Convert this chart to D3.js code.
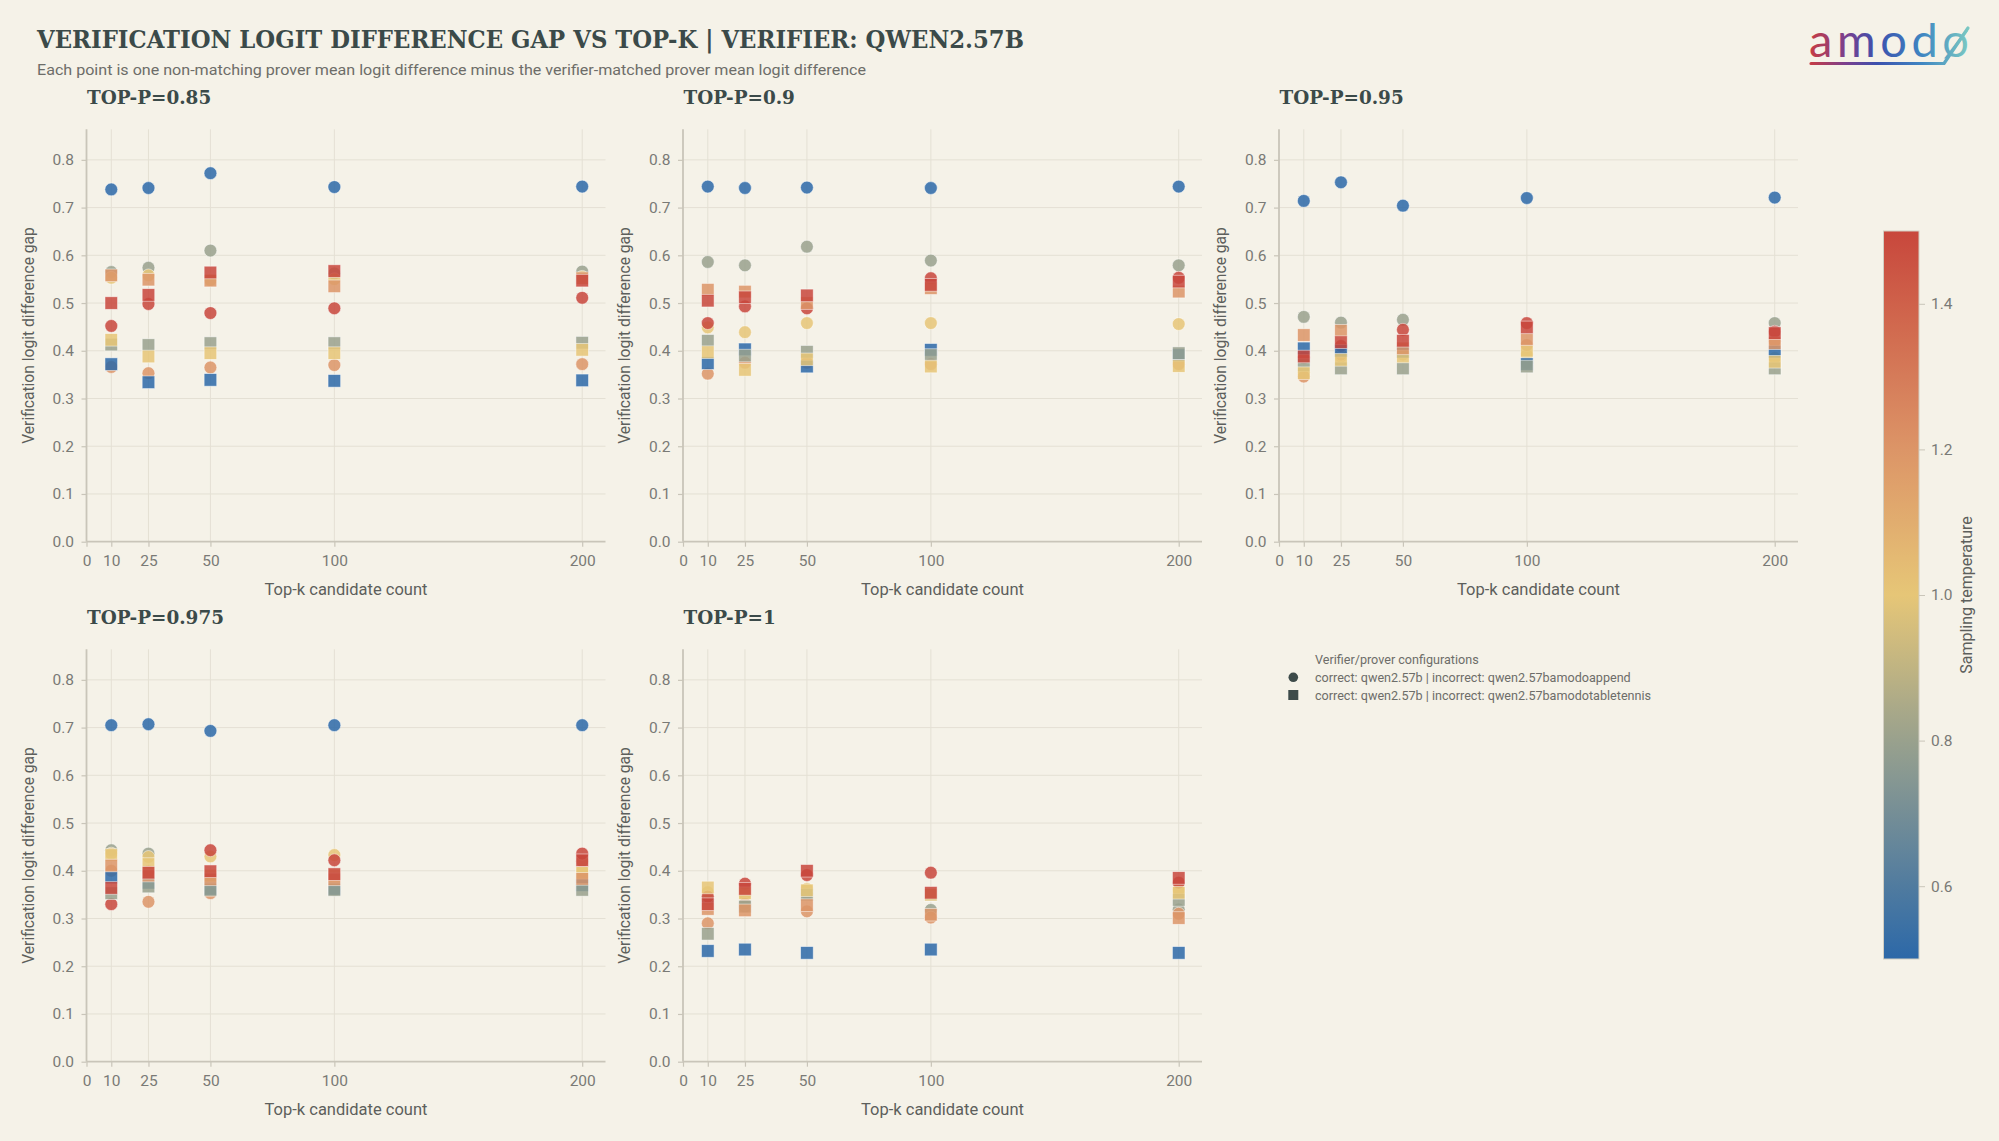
<!DOCTYPE html>
<html>
<head>
<meta charset="utf-8">
<script src="https://cdn.jsdelivr.net/npm/d3@7"></script>
<style>
  body { margin: 0; background: #f5f2e8; }
  svg { display: block; }
</style>
</head>
<body>
<svg id="chart"></svg>
<script>
var svgWidth = 1999;
var svgHeight = 1141;

// ---- data ----
var topK = [10, 25, 50, 100, 200];
var xTicks = [0, 10, 25, 50, 100, 200];
var yTicks = [0, 0.1, 0.2, 0.3, 0.4, 0.5, 0.6, 0.7, 0.8];
var tempTicks = [0.6, 0.8, 1.0, 1.2, 1.4];
var temps = [0.5, 0.8, 1.0, 1.2, 1.5];
var panelTitles = ["TOP-P=0.85", "TOP-P=0.9", "TOP-P=0.95", "TOP-P=0.975", "TOP-P=1"];
var configNames = [
  "correct: qwen2.57b | incorrect: qwen2.57bamodoappend",
  "correct: qwen2.57b | incorrect: qwen2.57bamodotabletennis"
];

// rows = top-k (10, 25, 50, 100, 200), columns = temperature (0.5, 0.8, 1.0, 1.2, 1.5)
var append085 = [
  [0.738, 0.565, 0.553, 0.366, 0.452],
  [0.741, 0.574, 0.558, 0.353, 0.498],
  [0.772, 0.610, 0.548, 0.365, 0.479],
  [0.743, 0.562, 0.550, 0.370, 0.489],
  [0.744, 0.566, 0.555, 0.372, 0.511]
];
var tennis085 = [
  [0.372, 0.413, 0.423, 0.558, 0.500],
  [0.334, 0.412, 0.388, 0.549, 0.517],
  [0.339, 0.416, 0.395, 0.547, 0.564],
  [0.337, 0.416, 0.395, 0.535, 0.567],
  [0.338, 0.417, 0.402, 0.552, 0.547]
];
var append090 = [
  [0.744, 0.586, 0.449, 0.352, 0.458],
  [0.741, 0.579, 0.439, 0.375, 0.493],
  [0.742, 0.618, 0.458, 0.375, 0.489],
  [0.741, 0.589, 0.458, 0.372, 0.552],
  [0.744, 0.579, 0.456, 0.372, 0.553]
];
var tennis090 = [
  [0.374, 0.421, 0.397, 0.528, 0.505],
  [0.403, 0.390, 0.360, 0.524, 0.512],
  [0.367, 0.398, 0.382, 0.500, 0.516],
  [0.402, 0.391, 0.367, 0.531, 0.538],
  [0.391, 0.395, 0.368, 0.524, 0.545]
];
var append095 = [
  [0.714, 0.471, 0.355, 0.346, 0.385],
  [0.753, 0.459, 0.388, 0.392, 0.410],
  [0.704, 0.465, 0.392, 0.402, 0.444],
  [0.720, 0.375, 0.391, 0.412, 0.458],
  [0.721, 0.458, 0.385, 0.420, 0.440]
];
var tennis095 = [
  [0.405, 0.370, 0.353, 0.433, 0.388],
  [0.400, 0.363, 0.381, 0.442, 0.418],
  [0.398, 0.363, 0.388, 0.405, 0.421],
  [0.372, 0.367, 0.400, 0.424, 0.449],
  [0.398, 0.363, 0.377, 0.416, 0.437]
];
var append0975 = [
  [0.705, 0.443, 0.436, 0.400, 0.330],
  [0.707, 0.436, 0.429, 0.335, 0.398],
  [0.693, 0.378, 0.430, 0.353, 0.443],
  [0.705, 0.360, 0.433, 0.380, 0.422],
  [0.705, 0.370, 0.400, 0.420, 0.436]
];
var tennis0975 = [
  [0.386, 0.353, 0.433, 0.411, 0.364],
  [0.375, 0.367, 0.414, 0.390, 0.396],
  [0.362, 0.360, 0.390, 0.382, 0.399],
  [0.362, 0.360, 0.390, 0.382, 0.393],
  [0.370, 0.360, 0.396, 0.383, 0.422]
];
var append100 = [
  [null, 0.340, 0.355, 0.290, 0.346],
  [null, 0.325, 0.350, 0.331, 0.373],
  [null, 0.352, 0.362, 0.315, 0.391],
  [null, 0.318, 0.350, 0.302, 0.396],
  [null, 0.319, 0.360, 0.310, 0.375]
];
var tennis100 = [
  [0.232, 0.268, 0.365, 0.320, 0.330],
  [0.235, 0.325, 0.353, 0.317, 0.362],
  [0.228, 0.350, 0.359, 0.328, 0.400],
  [0.235, 0.350, 0.350, 0.308, 0.354],
  [0.228, 0.339, 0.354, 0.301, 0.385]
];

var appendSets = [append085, append090, append095, append0975, append100];
var tennisSets = [tennis085, tennis090, tennis095, tennis0975, tennis100];

// ---- layout ----
var colX = [86.5, 683, 1279];
var rowY = [129.3, 649.3];
var plotW = 519;
var plotH = 412.4;

var gridColor = "#e4e0d4";
var axisColor = "#c9c5b9";
var tickText = "#7a7a76";
var titleColor = "#3b4a49";
var labelColor = "#5d5f5c";

var tempColor = d3.scaleLinear()
  .domain([0.5, 0.8, 1.0, 1.2, 1.5])
  .range(["#2c68a8", "#99a18d", "#e6c677", "#dc9567", "#c8473c"])
  .clamp(true);

var svg = d3.select("#chart")
  .attr("width", svgWidth)
  .attr("height", svgHeight);

svg.append("rect")
  .attr("width", svgWidth)
  .attr("height", svgHeight)
  .attr("fill", "#f5f2e8");

var defs = svg.append("defs");

// Title and subtitle
svg.append("text")
  .attr("x", 37)
  .attr("y", 48)
  .attr("font-family", "DejaVu Serif")
  .attr("font-weight", "bold")
  .attr("font-size", "24px")
  .attr("fill", titleColor)
  .attr("textLength", 987)
  .attr("lengthAdjust", "spacingAndGlyphs")
  .text("VERIFICATION LOGIT DIFFERENCE GAP VS TOP-K | VERIFIER: QWEN2.57B");

svg.append("text")
  .attr("x", 37)
  .attr("y", 75)
  .attr("font-family", "Roboto")
  .attr("font-size", "14.5px")
  .attr("fill", "#6d6d69")
  .attr("textLength", 829)
  .attr("lengthAdjust", "spacingAndGlyphs")
  .text("Each point is one non-matching prover mean logit difference minus the verifier-matched prover mean logit difference");

// Logo
var logoGrad = defs.append("linearGradient")
  .attr("id", "logoGrad")
  .attr("gradientUnits", "userSpaceOnUse")
  .attr("x1", 1810).attr("x2", 1970).attr("y1", 0).attr("y2", 0);
[["0", "#c63c44"], ["0.22", "#7b3f8e"], ["0.42", "#3b51ae"], ["0.7", "#3f86c2"], ["1", "#7ccac2"]]
  .forEach(function (s) { logoGrad.append("stop").attr("offset", s[0]).attr("stop-color", s[1]); });

svg.append("text")
  .attr("x", 1809)
  .attr("y", 57)
  .attr("font-family", "Lato")
  .attr("font-weight", 400)
  .attr("font-size", "47px")
  .attr("textLength", 160)
  .attr("lengthAdjust", "spacing")
  .attr("fill", "url(#logoGrad)")
  .text("amodø");

svg.append("path")
  .attr("d", "M1811,63.5 L1944,63.5 L1968,28")
  .attr("fill", "none")
  .attr("stroke", "url(#logoGrad)")
  .attr("stroke-width", 3.2)
  .attr("stroke-linecap", "round")
  .attr("stroke-linejoin", "round");

// Panels
panelTitles.forEach(function (title, i) {
  var x0 = colX[i % 3];
  var y0 = rowY[Math.floor(i / 3)];

  var g = svg.append("g").attr("transform", `translate(${x0}, ${y0})`);

  var xScale = d3.scaleLinear().domain([0, 209.4]).range([0, plotW]);
  var yScale = d3.scaleLinear().domain([0, 0.864]).range([plotH, 0]);

  // gridlines
  g.append("g")
    .selectAll("line.hgrid")
    .data(yTicks.filter(d => d > 0))
    .enter()
    .append("line")
    .attr("x1", 0).attr("x2", plotW)
    .attr("y1", d => yScale(d)).attr("y2", d => yScale(d))
    .attr("stroke", gridColor)
    .attr("stroke-width", 1);

  g.append("g")
    .selectAll("line.vgrid")
    .data(xTicks.filter(d => d > 0))
    .enter()
    .append("line")
    .attr("x1", d => xScale(d)).attr("x2", d => xScale(d))
    .attr("y1", 0).attr("y2", plotH)
    .attr("stroke", gridColor)
    .attr("stroke-width", 1);

  // axes
  var bottomAxis = d3.axisBottom(xScale)
    .tickValues(xTicks)
    .tickFormat(d3.format("d"))
    .tickSize(5)
    .tickPadding(8);
  var leftAxis = d3.axisLeft(yScale)
    .tickValues(yTicks)
    .tickFormat(d3.format(".1f"))
    .tickSize(5)
    .tickPadding(7.5);

  var xg = g.append("g")
    .attr("transform", `translate(0, ${plotH})`)
    .call(bottomAxis);
  var yg = g.append("g").call(leftAxis);

  [xg, yg].forEach(function (ax) {
    ax.select(".domain").remove();
    ax.selectAll(".tick line").attr("stroke", axisColor).attr("stroke-width", 1.2);
    ax.selectAll(".tick text")
      .attr("fill", tickText)
      .attr("font-family", "Roboto")
      .attr("font-size", "15.5px");
  });

  g.append("line")
    .attr("x1", 0).attr("x2", 0).attr("y1", 0).attr("y2", plotH)
    .attr("stroke", axisColor).attr("stroke-width", 1.8);
  g.append("line")
    .attr("x1", 0).attr("x2", plotW).attr("y1", plotH).attr("y2", plotH)
    .attr("stroke", axisColor).attr("stroke-width", 1.8);

  // points
  var circles = [];
  var squares = [];
  topK.forEach(function (k, ki) {
    temps.forEach(function (t, ti) {
      var a = appendSets[i][ki][ti];
      var b = tennisSets[i][ki][ti];
      if (a !== null) circles.push({ k: k, t: t, v: a });
      if (b !== null) squares.push({ k: k, t: t, v: b });
    });
  });

  g.selectAll("circle.pt")
    .data(circles)
    .enter()
    .append("circle")
    .attr("class", "pt")
    .attr("cx", d => xScale(d.k))
    .attr("cy", d => yScale(d.v))
    .attr("r", 6.4)
    .attr("fill", d => tempColor(d.t))
    .attr("fill-opacity", 0.85)
    .attr("stroke", "#ffffff")
    .attr("stroke-opacity", 0.6)
    .attr("stroke-width", 0.8);

  g.selectAll("rect.pt")
    .data(squares)
    .enter()
    .append("rect")
    .attr("class", "pt")
    .attr("x", d => xScale(d.k) - 6.3)
    .attr("y", d => yScale(d.v) - 6.3)
    .attr("width", 12.6)
    .attr("height", 12.6)
    .attr("fill", d => tempColor(d.t))
    .attr("fill-opacity", 0.85)
    .attr("stroke", "#ffffff")
    .attr("stroke-opacity", 0.6)
    .attr("stroke-width", 0.8);

  // titles
  g.append("text")
    .attr("x", 0.5)
    .attr("y", -25)
    .attr("font-family", "DejaVu Serif")
    .attr("font-weight", "bold")
    .attr("font-size", "18.4px")
    .attr("fill", titleColor)
    .text(title);

  g.append("text")
    .attr("x", plotW / 2)
    .attr("y", plotH + 53)
    .attr("text-anchor", "middle")
    .attr("font-family", "Roboto")
    .attr("font-size", "16.5px")
    .attr("fill", labelColor)
    .text("Top-k candidate count");

  g.append("text")
    .attr("transform", "rotate(-90)")
    .attr("x", -plotH / 2)
    .attr("y", -53)
    .attr("text-anchor", "middle")
    .attr("font-family", "Roboto")
    .attr("font-size", "15.6px")
    .attr("fill", labelColor)
    .text("Verification logit difference gap");
});

// Legend
var legend = svg.append("g");
legend.append("text")
  .attr("x", 1315).attr("y", 663.5)
  .attr("font-family", "Roboto").attr("font-size", "12.6px")
  .attr("fill", "#6d6d69")
  .text("Verifier/prover configurations");
legend.append("circle")
  .attr("cx", 1293.3).attr("cy", 677.3).attr("r", 4.8)
  .attr("fill", "#3d4b4a");
legend.append("rect")
  .attr("x", 1288.3).attr("y", 690).attr("width", 10).attr("height", 10)
  .attr("fill", "#3d4b4a");
legend.selectAll("text.item")
  .data(configNames)
  .enter()
  .append("text")
  .attr("class", "item")
  .attr("x", 1315)
  .attr("y", (d, j) => 681.8 + j * 17.7)
  .attr("font-family", "Roboto").attr("font-size", "12.6px")
  .attr("fill", "#6d6d69")
  .text(d => d);

// Colorbar
var cbScale = d3.scaleLinear().domain([0.5, 1.5]).range([959, 231]);
var cbGrad = defs.append("linearGradient")
  .attr("id", "cbGrad")
  .attr("x1", 0).attr("x2", 0).attr("y1", 1).attr("y2", 0);
d3.range(0, 1.0001, 0.05).forEach(function (f) {
  cbGrad.append("stop")
    .attr("offset", f)
    .attr("stop-color", tempColor(0.5 + f));
});

svg.append("rect")
  .attr("x", 1883.5).attr("y", 231)
  .attr("width", 35.5).attr("height", 728)
  .attr("fill", "url(#cbGrad)")
  .attr("stroke", "#d2cec2")
  .attr("stroke-width", 1);

var cbAxis = svg.append("g")
  .attr("transform", "translate(1919, 0)")
  .call(d3.axisRight(cbScale).tickValues(tempTicks).tickFormat(d3.format(".1f")).tickSize(6).tickPadding(6));
cbAxis.select(".domain").remove();
cbAxis.selectAll(".tick line").attr("stroke", axisColor);
cbAxis.selectAll(".tick text")
  .attr("fill", tickText)
  .attr("font-family", "Roboto")
  .attr("font-size", "15.5px");

svg.append("text")
  .attr("transform", "translate(1972, 595) rotate(-90)")
  .attr("text-anchor", "middle")
  .attr("font-family", "Roboto")
  .attr("font-size", "16px")
  .attr("fill", labelColor)
  .text("Sampling temperature");
</script>
</body>
</html>
